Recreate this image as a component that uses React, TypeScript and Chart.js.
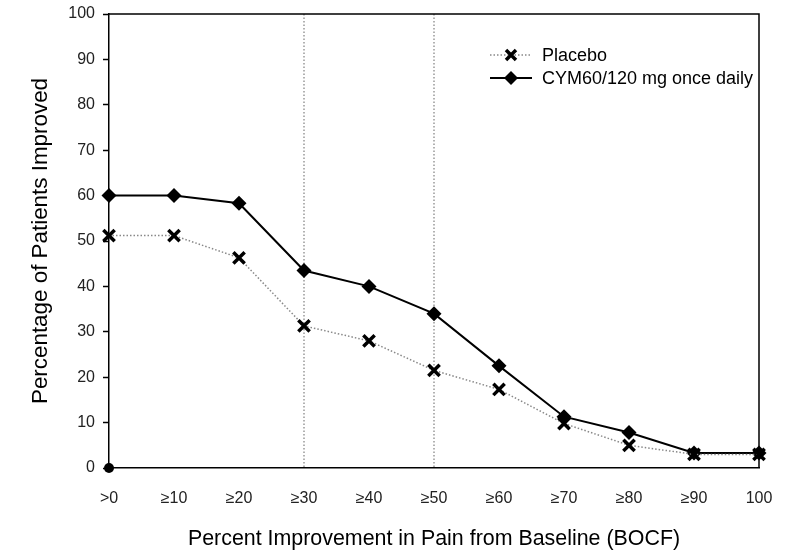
import React, { useEffect, useRef } from "react";
import { Chart, registerables } from "chart.js";

Chart.register(...registerables);

const categories = [">0", "≥10", "≥20", "≥30", "≥40", "≥50", "≥60", "≥70", "≥80", "≥90", "100"];
const placebo = [51.2, 51.2, 46.3, 31.3, 28.0, 21.5, 17.3, 9.8, 5.0, 3.0, 3.0];
const cym = [60.0, 60.0, 58.3, 43.5, 40.0, 34.0, 22.5, 11.3, 7.8, 3.3, 3.3];
const originPoint = [0];
const referenceLines = ["≥30", "≥50"];
const yTicks = [0, 10, 20, 30, 40, 50, 60, 70, 80, 90, 100];

const FONT = "'Liberation Sans', Arial, sans-serif";

const framePlugin = {
  id: "frameAndRefs",
  beforeDatasetsDraw(chart: any) {
    const { ctx, chartArea, scales } = chart;
    ctx.save();
    ctx.strokeStyle = "#999";
    ctx.lineWidth = 1.5;
    ctx.setLineDash([1.5, 2]);
    referenceLines.forEach((c) => {
      const x = scales.x.getPixelForValue(categories.indexOf(c));
      ctx.beginPath();
      ctx.moveTo(x, chartArea.top);
      ctx.lineTo(x, chartArea.bottom);
      ctx.stroke();
    });
    ctx.setLineDash([]);
    ctx.strokeStyle = "#000";
    ctx.lineWidth = 1.5;
    ctx.beginPath();
    ctx.moveTo(chartArea.left, chartArea.top);
    ctx.lineTo(chartArea.right, chartArea.top);
    ctx.lineTo(chartArea.right, chartArea.bottom);
    ctx.stroke();
    ctx.restore();
  },
  afterDraw(chart: any) {
    const { ctx, chartArea } = chart;
    const items = [
      { label: chart.data.datasets[0].label, dash: [1.5, 2], color: "#888", style: "crossRot", w: 1.5 },
      { label: chart.data.datasets[1].label, dash: [], color: "#000", style: "rectRot", w: 2 },
    ];
    const x0 = chartArea.left + 381;
    const y0 = chartArea.top + 41;
    ctx.save();
    items.forEach((it, i) => {
      const y = y0 + i * 23;
      const cx = x0 + 21;
      ctx.strokeStyle = it.color;
      ctx.lineWidth = it.w;
      ctx.setLineDash(it.dash);
      ctx.beginPath();
      ctx.moveTo(x0, y);
      ctx.lineTo(x0 + 42, y);
      ctx.stroke();
      ctx.setLineDash([]);
      ctx.fillStyle = "#000";
      ctx.strokeStyle = "#000";
      if (it.style === "crossRot") {
        ctx.lineWidth = 3.5;
        const r = 5;
        ctx.beginPath();
        ctx.moveTo(cx - r, y - r);
        ctx.lineTo(cx + r, y + r);
        ctx.moveTo(cx - r, y + r);
        ctx.lineTo(cx + r, y - r);
        ctx.stroke();
      } else {
        const r = 7;
        ctx.beginPath();
        ctx.moveTo(cx, y - r);
        ctx.lineTo(cx + r, y);
        ctx.lineTo(cx, y + r);
        ctx.lineTo(cx - r, y);
        ctx.closePath();
        ctx.fill();
      }
      ctx.font = `18px ${FONT}`;
      ctx.textBaseline = "middle";
      ctx.textAlign = "left";
      ctx.fillStyle = "#000";
      ctx.fillText(it.label, x0 + 52, y + 1);
    });
    ctx.restore();
  },
};

export default function App() {
  const ref = useRef<HTMLCanvasElement>(null);
  useEffect(() => {
    if (!ref.current) return;
    const chart = new Chart(ref.current, {
      type: "line",
      data: {
        labels: categories,
        datasets: [
          {
            label: "Placebo",
            data: placebo,
            borderColor: "#888",
            borderWidth: 1.5,
            borderDash: [1.5, 2],
            pointStyle: "crossRot",
            pointRadius: 8,
            pointBorderWidth: 3.5,
            pointBorderColor: "#000",
            pointBackgroundColor: "#000",
            tension: 0,
            clip: false,
          },
          {
            label: "CYM60/120 mg once daily",
            data: cym,
            borderColor: "#000",
            borderWidth: 2,
            pointStyle: "rectRot",
            pointRadius: 7.5,
            pointBorderWidth: 0,
            pointBackgroundColor: "#000",
            pointBorderColor: "#000",
            tension: 0,
            clip: false,
          },
          {
            label: "origin",
            data: originPoint,
            showLine: false,
            pointStyle: "circle",
            pointRadius: 5,
            pointBackgroundColor: "#000",
            pointBorderColor: "#000",
            borderWidth: 0,
            clip: false,
          },
        ],
      },
      options: {
        responsive: false,
        animation: false,
        devicePixelRatio: 1,
        layout: { padding: { left: 0, top: 14, right: 44, bottom: 0 } },
        plugins: { legend: { display: false }, tooltip: { enabled: false } },
        scales: {
          x: {
            offset: false,
            grid: { display: false, drawOnChartArea: false, drawTicks: true, tickLength: 7, tickColor: "#000", tickWidth: 1.5 },
            border: { display: true, color: "#000", width: 1.5 },
            ticks: { color: "#222", font: { family: FONT, size: 16 }, padding: 14, maxRotation: 0, autoSkip: false },
            title: {
              display: true,
              text: "Percent Improvement in Pain from Baseline (BOCF)",
              color: "#000",
              font: { family: FONT, size: 21.4 },
              padding: { top: 0, bottom: 7 },
            },
            afterFit(scale: any) {
              scale.height = 91;
              scale.paddingLeft = 0;
              scale.paddingRight = 0;
            },
          },
          y: {
            min: 0,
            max: 100,
            afterBuildTicks(scale: any) {
              scale.ticks = yTicks.map((v) => ({ value: v }));
            },
            grid: { display: true, drawOnChartArea: false, drawTicks: true, tickLength: 6, tickColor: "#000", tickWidth: 1.5 },
            border: { display: true, color: "#000", width: 1.5 },
            ticks: { color: "#222", font: { family: FONT, size: 16 }, padding: 8 },
            title: {
              display: true,
              text: "Percentage of Patients Improved",
              color: "#000",
              font: { family: FONT, size: 22.4 },
              padding: { top: 27, bottom: 0 },
            },
            afterFit(scale: any) {
              scale.width = 109;
              scale.paddingTop = 0;
              scale.paddingBottom = 0;
            },
          },
        },
      },
      plugins: [framePlugin],
    });
    return () => chart.destroy();
  }, []);
  return (
    <div style={{ position: "fixed", left: 0, top: 0, width: 803, height: 559, background: "#fff" }}>
      <canvas ref={ref} width={803} height={559} style={{ width: 803, height: 559 }} />
    </div>
  );
}
